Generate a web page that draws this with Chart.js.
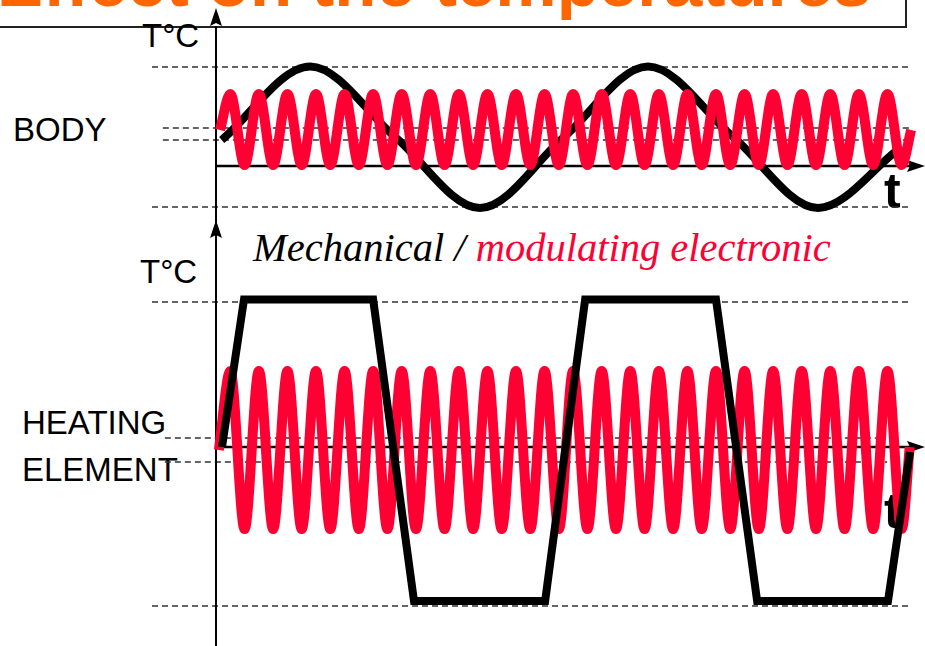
<!DOCTYPE html>
<html lang="en">
<head>
<meta charset="utf-8">
<title>Effect on the temperatures</title>
<script src="https://cdn.jsdelivr.net/npm/chart.js@4.4.0/dist/chart.umd.min.js"></script>
<style>
  html, body { margin: 0; padding: 0; background: #fff; }
  body {
    width: 925px; height: 646px;
    position: relative; overflow: hidden;
    font-family: "Liberation Sans", Arial, sans-serif;
  }
  .titlebox {
    position: absolute; left: -10px; top: -100px;
    width: 913px; height: 124px;
    border: 2px solid #222; background: #fff; z-index: 1;
  }
  .title {
    position: absolute; left: -3px; top: -52px;
    font-size: 69px; line-height: 69px; font-weight: bold;
    color: #ff6600; white-space: nowrap; z-index: 2;
  }
  .lbl {
    position: absolute; font-size: 33px; line-height: 33px;
    color: #000; white-space: nowrap; z-index: 1;
  }
  .tlbl {
    position: absolute; font-size: 50px; line-height: 50px;
    font-weight: bold; color: #000; z-index: 1;
  }
  .caption {
    position: absolute; left: 253px; top: 228px;
    font-family: "Liberation Serif", "Times New Roman", serif;
    font-style: italic; font-size: 40.5px; line-height: 40px;
    white-space: nowrap; z-index: 1;
  }
  canvas { position: absolute; left: 0; z-index: 3; }
</style>
</head>
<body>

<div class="titlebox"></div>
<div class="title">Effect on the temperatures</div>

<div class="lbl" style="left:142px; top:19px;">T°C</div>
<div class="lbl" style="left:13px; top:113px;">BODY</div>
<div class="tlbl" style="left:884px; top:166px;">t</div>

<div class="caption"><span style="color:#000">Mechanical / </span><span style="color:#ff0033">modulating electronic</span></div>

<div class="lbl" style="left:140px; top:255px;">T°C</div>
<div class="lbl" style="left:22px; top:406px;">HEATING</div>
<div class="lbl" style="left:22px; top:453px;">ELEMENT</div>
<div class="tlbl" style="left:884px; top:486px;">t</div>

<canvas id="bodyChart" width="925" height="232" style="top:0px"></canvas>
<canvas id="heatChart" width="925" height="432" style="top:214px"></canvas>

<script>
// time axis: 1 unit = one period of the electronic (red) oscillation
var redPeakTimes = [0.5, 1.5, 2.5, 3.5, 4.5, 5.5, 6.5, 7.5, 8.5, 9.5, 10.5, 11.5,
                    12.5, 13.5, 14.5, 15.5, 16.5, 17.5, 18.5, 19.5, 20.5, 21.5, 22.5, 23.5];
var redTroughTimes = [1, 2, 3, 4, 5, 6, 7, 8, 9, 10, 11, 12,
                      13, 14, 15, 16, 17, 18, 19, 20, 21, 22, 23, 24];

// BODY panel
var bodyMechTimes = [0.2, 3.3, 6.27, 9.24, 12.18, 15.12, 18.1, 21.07, 23.9];
var bodyMechTemps = [2.6, 9.95, 2.9, -4.2, 2.9, 9.95, 2.9, -4.2, 1.7];
var bodyElecStart = [0.14, 3.6];
var bodyElecEnd = [24.33, 3.6];
var bodyElecHigh = 7.2;
var bodyElecLow = 0.1;
var bodyLevels = [9.9, 3.8, 2.6, -4.1];
var bodyLevelFrom = [-2.24, -1.86, -1.86, -2.24];
var bodyLevelTo = [24.35, 24.3, 24.3, 24.35];

// HEATING ELEMENT panel
var heatMechTimes = [0.21, 0.98, 5.5, 6.93, 11.52, 12.92, 17.5, 18.94, 23.52, 24.29];
var heatMechTemps = [0, 14.75, 14.75, -15.4, -15.4, 14.75, 14.75, -15.4, -15.4, -0.5];
var heatElecStart = [0.1, -0.3];
var heatElecEnd = [24.28, 0];
var heatElecHigh = 7.6;
var heatElecLow = -8.2;
var heatLevels = [14.5, 0.9, -1.5, -15.9];
var heatLevelFrom = [-2.24, -1.79, -1.79, -2.24];
var heatLevelTo = [24.3, 23.24, 23.49, 24.3];

var RED = "#ff0033";

function pairs(xs, ys) {
  var out = [];
  for (var i = 0; i < xs.length; i++) out.push({x: xs[i], y: ys[i]});
  return out;
}

function electronic(start, end, hi, lo) {
  var pts = [{x: start[0], y: start[1]}];
  for (var i = 0; i < redPeakTimes.length; i++) {
    pts.push({x: redPeakTimes[i], y: hi});
    pts.push({x: redTroughTimes[i], y: lo});
  }
  pts.push({x: end[0], y: end[1]});
  return pts;
}

function arrowHead() {
  var c = document.createElement("canvas");
  c.width = 12; c.height = 18;
  var g = c.getContext("2d");
  g.fillStyle = "#000";
  g.beginPath();
  g.moveTo(6, 0);
  g.lineTo(12, 18);
  g.lineTo(6, 15);
  g.lineTo(0, 18);
  g.closePath();
  g.fill();
  return c;
}
var arrow = arrowHead();

function levelSets(levels, from, to) {
  var sets = [];
  for (var i = 0; i < levels.length; i++) {
    sets.push({
      data: [{x: from[i], y: levels[i]}, {x: to[i], y: levels[i]}],
      borderColor: "#333", borderWidth: 1.5, borderDash: [6, 4],
      pointRadius: 0, clip: false, order: 10
    });
  }
  return sets;
}

function axisSets(vTop, vBottom, vArrowY, hEnd) {
  return [
    { data: [{x: 0, y: vTop}, {x: 0, y: vBottom}],
      borderColor: "#000", borderWidth: 2, pointRadius: 0, clip: false, order: 8 },
    { data: [{x: 0, y: 0}, {x: hEnd, y: 0}],
      borderColor: "#000", borderWidth: 2.5, pointRadius: 0, clip: false, order: 8 },
    { data: [{x: 0, y: vArrowY}], showLine: false,
      pointStyle: arrow, pointRadius: 10, rotation: 0, clip: false, order: 7 },
    { data: [{x: 24.5, y: 0}], showLine: false,
      pointStyle: arrow, pointRadius: 10, rotation: 90, clip: false, order: 7 }
  ];
}

function makeChart(id, yMin, yMax, datasets) {
  return new Chart(document.getElementById(id), {
    type: "line",
    data: { datasets: datasets },
    options: {
      responsive: false,
      animation: false,
      devicePixelRatio: 1,
      layout: { autoPadding: false, padding: { left: 216, right: 9, top: 0, bottom: 0 } },
      scales: {
        x: { type: "linear", display: false, min: 0, max: 24.5 },
        y: { type: "linear", display: false, min: yMin, max: yMax }
      },
      plugins: { legend: { display: false }, tooltip: { enabled: false } },
      elements: { point: { radius: 0 } }
    }
  });
}

// top panel: body temperature
var bodySets = levelSets(bodyLevels, bodyLevelFrom, bodyLevelTo)
  .concat(axisSets(14, -6.6, 14.9, 24.4))
  .concat([
    { data: pairs(bodyMechTimes, bodyMechTemps),
      borderColor: "#000", borderWidth: 8, cubicInterpolationMode: "monotone",
      borderJoinStyle: "round", pointRadius: 0, clip: false, order: 2 },
    { data: electronic(bodyElecStart, bodyElecEnd, bodyElecHigh, bodyElecLow),
      borderColor: RED, borderWidth: 10, cubicInterpolationMode: "monotone",
      borderJoinStyle: "round", pointRadius: 0, clip: false, order: 1 }
  ]);
makeChart("bodyChart", -6.6, 16.6, bodySets);

// bottom panel: heating element temperature
var heatSets = levelSets(heatLevels, heatLevelFrom, heatLevelTo)
  .concat(axisSets(22.5, -19.9, 21.8, 24.4))
  .concat([
    { data: electronic(heatElecStart, heatElecEnd, heatElecHigh, heatElecLow),
      borderColor: RED, borderWidth: 10, cubicInterpolationMode: "monotone",
      borderJoinStyle: "round", pointRadius: 0, clip: false, order: 2 },
    { data: pairs(heatMechTimes, heatMechTemps),
      borderColor: "#000", borderWidth: 8, tension: 0,
      borderJoinStyle: "miter", pointRadius: 0, clip: false, order: 1 }
  ]);
makeChart("heatChart", -19.9, 23.3, heatSets);
</script>
</body>
</html>
